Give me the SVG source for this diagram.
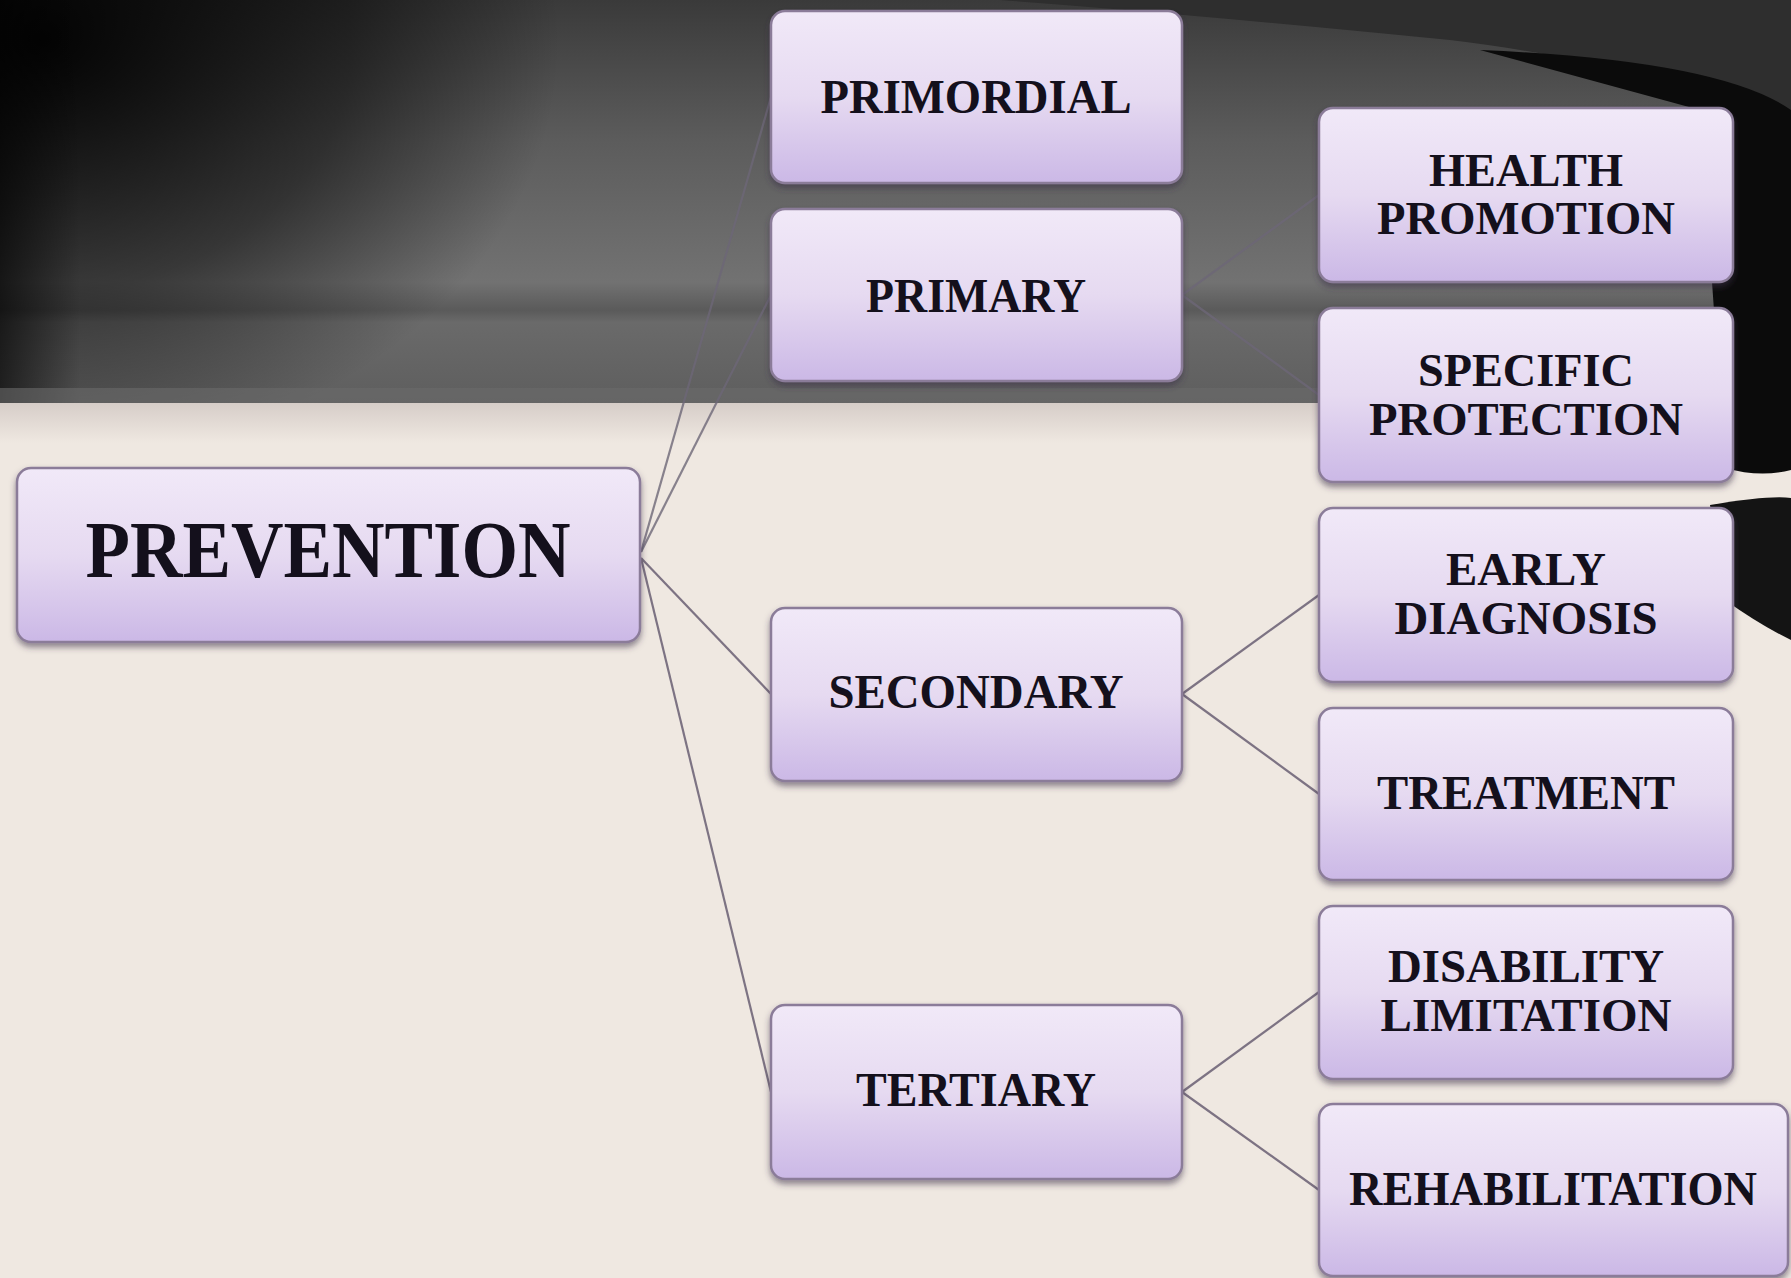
<svg xmlns="http://www.w3.org/2000/svg" width="1791" height="1278" viewBox="0 0 1791 1278">
<defs>
<linearGradient id="bgTop" x1="0" y1="0" x2="0" y2="1">
<stop offset="0" stop-color="#3a3a3a"/>
<stop offset="0.35" stop-color="#5c5c5c"/>
<stop offset="0.7" stop-color="#727272"/>
<stop offset="0.77" stop-color="#5a5a5a"/>
<stop offset="0.8" stop-color="#6a6a6a"/>
<stop offset="1" stop-color="#5e5e5e"/>
</linearGradient>
<radialGradient id="corner" cx="0" cy="0" r="1" gradientUnits="userSpaceOnUse" gradientTransform="translate(40 40) scale(520 420)">
<stop offset="0" stop-color="#000" stop-opacity="0.95"/>
<stop offset="0.6" stop-color="#000" stop-opacity="0.5"/>
<stop offset="1" stop-color="#000" stop-opacity="0"/>
</radialGradient>
<linearGradient id="leftEdge" x1="0" y1="0" x2="1" y2="0">
<stop offset="0" stop-color="#000" stop-opacity="0.6"/>
<stop offset="1" stop-color="#000" stop-opacity="0"/>
</linearGradient>
<linearGradient id="belowBand" x1="0" y1="0" x2="0" y2="1">
<stop offset="0" stop-color="#d6cdc8"/>
<stop offset="1" stop-color="#efe8e1"/>
</linearGradient>
<linearGradient id="boxFill" x1="0" y1="0" x2="0" y2="1">
<stop offset="0" stop-color="#f1e9f8"/>
<stop offset="0.5" stop-color="#e6daf1"/>
<stop offset="1" stop-color="#cbb8e6"/>
</linearGradient>
<filter id="shadow" x="-5%" y="-5%" width="110%" height="120%">
<feDropShadow dx="0" dy="4" stdDeviation="3" flood-color="#3b2f48" flood-opacity="0.55"/>
</filter>
<style>
.box{fill:url(#boxFill);stroke:#8b7c99;stroke-width:2.5;filter:url(#shadow)}
.lbl{font-family:"Liberation Serif","Times New Roman",serif;font-weight:bold;fill:#14101c;text-anchor:middle}
.conn{stroke:#7d7383;stroke-width:2.2;fill:none}
.connDark{stroke:#6d6777;stroke-width:2.2;fill:none;opacity:0.8}
</style>
</defs>
<!-- background -->
<rect x="0" y="0" width="1791" height="1278" fill="#efe8e1"/>
<rect x="0" y="0" width="1791" height="403" fill="url(#bgTop)"/>
<rect x="0" y="0" width="1791" height="403" fill="url(#corner)"/>
<rect x="0" y="0" width="80" height="403" fill="url(#leftEdge)"/>
<rect x="0" y="388" width="1791" height="15" fill="#6a6a6a" opacity="0.6"/>
<rect x="0" y="403" width="1791" height="40" fill="url(#belowBand)"/>
<path d="M1000,0 L1791,0 L1791,150 Q1700,70 1450,40 Q1200,15 1000,0 Z" fill="#2e2e2e"/>
<path d="M1480,50 Q1720,60 1791,110 L1791,470 Q1760,478 1725,468 L1700,110 Z" fill="#0b0b0b"/>
<path d="M1710,505 Q1770,495 1791,498 L1791,640 Q1760,625 1725,600 Z" fill="#141414"/>
<!-- connectors -->
<g id="connectors">
<line class="connDark" x1="641" y1="552" x2="771" y2="97"/>
<line class="connDark" x1="641" y1="552" x2="771" y2="295"/>
<line class="conn" x1="641" y1="558" x2="771" y2="694"/>
<line class="conn" x1="641" y1="558" x2="771" y2="1092"/>
<line class="connDark" x1="1182" y1="295" x2="1319" y2="195"/>
<line class="connDark" x1="1182" y1="295" x2="1319" y2="395"/>
<line class="conn" x1="1182" y1="694" x2="1319" y2="595"/>
<line class="conn" x1="1182" y1="694" x2="1319" y2="794"/>
<line class="conn" x1="1182" y1="1092" x2="1319" y2="992"/>
<line class="conn" x1="1182" y1="1092" x2="1319" y2="1190"/>
</g>
<!-- nodes -->
<g id="prevention">
<rect class="box" x="17" y="468" width="623" height="174" rx="14"/>
<text class="lbl" x="328" y="577" font-size="80" textLength="485" lengthAdjust="spacingAndGlyphs">PREVENTION</text>
</g>
<g id="primordial">
<rect class="box" x="771" y="11" width="411" height="172" rx="14"/>
<text class="lbl" x="976" y="113" font-size="48" textLength="311" lengthAdjust="spacingAndGlyphs">PRIMORDIAL</text>
</g>
<g id="primary">
<rect class="box" x="771" y="209" width="411" height="172" rx="14"/>
<text class="lbl" x="976" y="312" font-size="48" textLength="220" lengthAdjust="spacingAndGlyphs">PRIMARY</text>
</g>
<g id="secondary">
<rect class="box" x="771" y="608" width="411" height="173" rx="14"/>
<text class="lbl" x="976" y="708" font-size="48" textLength="295" lengthAdjust="spacingAndGlyphs">SECONDARY</text>
</g>
<g id="tertiary">
<rect class="box" x="771" y="1005" width="411" height="174" rx="14"/>
<text class="lbl" x="976" y="1106" font-size="48" textLength="240" lengthAdjust="spacingAndGlyphs">TERTIARY</text>
</g>
<g id="health-promotion">
<rect class="box" x="1319" y="108" width="414" height="174" rx="14"/>
<text class="lbl" x="1526" y="186" font-size="47" textLength="194" lengthAdjust="spacingAndGlyphs">HEALTH</text>
<text class="lbl" x="1526" y="234" font-size="47" textLength="298" lengthAdjust="spacingAndGlyphs">PROMOTION</text>
</g>
<g id="specific-protection">
<rect class="box" x="1319" y="308" width="414" height="174" rx="14"/>
<text class="lbl" x="1526" y="386" font-size="47" textLength="216" lengthAdjust="spacingAndGlyphs">SPECIFIC</text>
<text class="lbl" x="1526" y="435" font-size="47" textLength="314" lengthAdjust="spacingAndGlyphs">PROTECTION</text>
</g>
<g id="early-diagnosis">
<rect class="box" x="1319" y="508" width="414" height="174" rx="14"/>
<text class="lbl" x="1526" y="585" font-size="47" textLength="160" lengthAdjust="spacingAndGlyphs">EARLY</text>
<text class="lbl" x="1526" y="634" font-size="47" textLength="263" lengthAdjust="spacingAndGlyphs">DIAGNOSIS</text>
</g>
<g id="treatment">
<rect class="box" x="1319" y="708" width="414" height="172" rx="14"/>
<text class="lbl" x="1526" y="809" font-size="48" textLength="298" lengthAdjust="spacingAndGlyphs">TREATMENT</text>
</g>
<g id="disability-limitation">
<rect class="box" x="1319" y="906" width="414" height="173" rx="14"/>
<text class="lbl" x="1526" y="982" font-size="47" textLength="276" lengthAdjust="spacingAndGlyphs">DISABILITY</text>
<text class="lbl" x="1526" y="1031" font-size="47" textLength="291" lengthAdjust="spacingAndGlyphs">LIMITATION</text>
</g>
<g id="rehabilitation">
<rect class="box" x="1319" y="1104" width="469" height="172" rx="14"/>
<text class="lbl" x="1553" y="1205" font-size="48" textLength="408" lengthAdjust="spacingAndGlyphs">REHABILITATION</text>
</g>
</svg>
